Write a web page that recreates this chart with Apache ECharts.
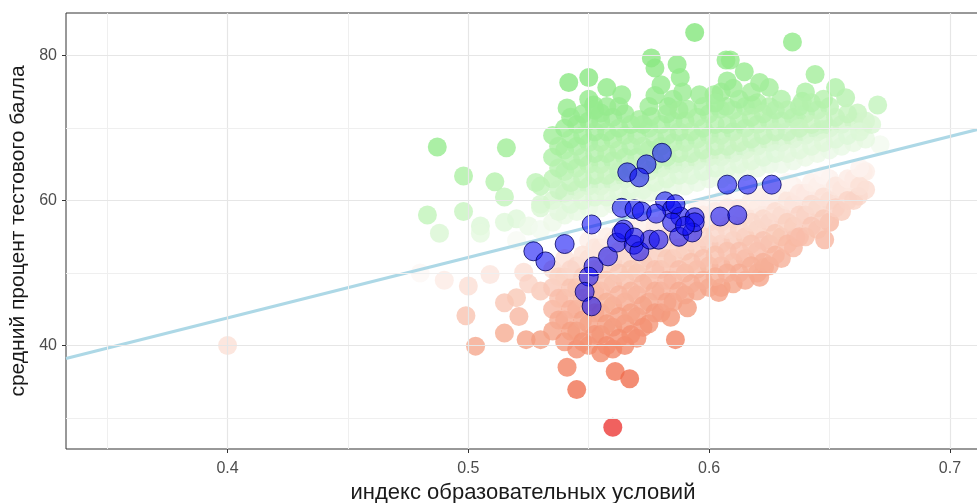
<!DOCTYPE html>
<html>
<head>
<meta charset="utf-8">
<script src="https://cdn.jsdelivr.net/npm/echarts@6/dist/echarts.min.js"></script>
<style>html,body{margin:0;padding:0;background:#fff;}#c{width:977px;height:503px;}</style>
</head>
<body>
<div id="c"></div>
<script>
// ---- data ----
const xTicks = [0.4, 0.5, 0.6, 0.7];
const yTicks = [40, 60, 80];
const xMinorGrid = [0.35, 0.45, 0.55, 0.65];
const yMinorGrid = [30, 50, 70];
const xRange = [0.3329, 0.7125];
const yRange = [25.7, 85.9];
const trendIntercept = 10.4;
const trendSlope = 83.5;
const trendX = [0.3329, 0.7125];

// schools above the trend (green side)
const greenPoints = [
 [0.4871,67.4],[0.5158,67.3],[0.498,63.4],[0.511,62.6],[0.528,62.5],[0.483,58.0],[0.498,58.5],[0.488,55.5],[0.505,56.5],[0.515,60.5],[0.52,57.5],[0.53,59.5],[0.505,55.5],[0.515,57],[0.52,54.5],[0.525,56.5],
 [0.594,83.2],[0.576,79.7],[0.5775,78.3],[0.5867,78.8],[0.588,77.0],[0.5417,76.3],[0.55,77.0],[0.5575,75.6],[0.5637,74.6],[0.541,72.8],[0.552,73.2],[0.555,72.1],[0.571,71.2],[0.576,71.6],[0.583,73.0],[0.589,75.0],[0.596,74.6],[0.602,74.6],[0.607,79.4],[0.6046,72.6],[0.591,72.6],
 [0.6346,81.9],[0.6088,79.4],[0.6146,77.8],[0.621,76.3],[0.625,75.6],[0.644,77.4],[0.6525,75.6],[0.6567,74.2],[0.67,73.2],[0.6617,72.1],[0.6387,73.7],[0.618,73.2],[0.607,73.0],[0.625,73.0],[0.637,70.9],[0.647,69.8],[0.664,70.2],[0.671,67.7],
 [0.53,56],[0.53,59],[0.53,62],
 [0.535,57],[0.535,60],[0.535,63],[0.535,66],[0.535,69],
 [0.54,58],[0.54,61],[0.54,64],[0.54,67],[0.54,70],
 [0.545,58.5],[0.545,61.5],[0.545,64.5],[0.545,67.5],[0.545,70.5],
 [0.55,59],[0.55,62],[0.55,65],[0.55,68],[0.55,71],[0.55,74],
 [0.555,59],[0.555,62],[0.555,65],[0.555,68],[0.555,71],
 [0.56,59.5],[0.56,62.5],[0.56,65.5],[0.56,68.5],[0.56,71.5],
 [0.565,60],[0.565,63],[0.565,66],[0.565,69],[0.565,72],
 [0.57,60],[0.57,63],[0.57,66],[0.57,69],
 [0.575,61],[0.575,64],[0.575,67],[0.575,70],[0.575,73],
 [0.58,61.5],[0.58,64.5],[0.58,67.5],[0.58,70.5],[0.58,76],
 [0.585,62],[0.585,65],[0.585,68],[0.585,71],[0.585,74],
 [0.59,62],[0.59,65],[0.59,68],[0.59,71],
 [0.595,62.5],[0.595,65.5],[0.595,68.5],[0.595,71.5],
 [0.6,63],[0.6,66],[0.6,69],[0.6,72],
 [0.605,63],[0.605,66],[0.605,69],[0.605,75],
 [0.61,63.5],[0.61,66.5],[0.61,69.5],[0.61,72.5],[0.61,75.5],
 [0.615,64],[0.615,67],[0.615,70],[0.615,73],
 [0.62,64.5],[0.62,67.5],[0.62,70.5],[0.62,73.5],
 [0.625,65],[0.625,68],[0.625,71],
 [0.63,65],[0.63,68],[0.63,71],[0.63,74],
 [0.635,65.5],[0.635,68.5],[0.635,71.5],
 [0.64,66],[0.64,69],[0.64,72],[0.64,75],
 [0.645,66.5],[0.645,69.5],[0.645,72.5],
 [0.65,67],[0.65,70],[0.65,73],
 [0.655,67.5],[0.655,70.5],
 [0.66,68],[0.66,71],
 [0.665,68.5],[0.665,71],
 [0.5375,58.5],[0.5375,61.5],[0.5375,64.5],[0.5375,67.5],
 [0.5425,59.5],[0.5425,62.5],[0.5425,65.5],[0.5425,68.5],[0.5425,71.5],
 [0.5475,60],[0.5475,63],[0.5475,66],[0.5475,69],[0.5475,72],
 [0.5525,60.5],[0.5525,63.5],[0.5525,66.5],[0.5525,69.5],[0.5525,72.5],
 [0.5575,60.5],[0.5575,63.5],[0.5575,66.5],[0.5575,69.5],[0.5575,73],
 [0.5625,61],[0.5625,64],[0.5625,67],[0.5625,70],[0.5625,73],
 [0.5675,61.5],[0.5675,64.5],[0.5675,67.5],[0.5675,70.5],
 [0.5725,61.5],[0.5725,64.5],[0.5725,67.5],[0.5725,70.5],
 [0.5775,62.5],[0.5775,65.5],[0.5775,68.5],[0.5775,74.5],
 [0.5825,63],[0.5825,66],[0.5825,69],[0.5825,72],
 [0.5875,63.5],[0.5875,66.5],[0.5875,69.5],[0.5875,72.5],
 [0.5925,63.5],[0.5925,66.5],[0.5925,69.5],
 [0.5975,64],[0.5975,67],[0.5975,70],[0.5975,73],
 [0.6025,64.5],[0.6025,67.5],[0.6025,70.5],[0.6025,73.5],
 [0.6075,64.5],[0.6075,67.5],[0.6075,70.5],[0.6075,76.5],
 [0.6125,65],[0.6125,68],[0.6125,71],[0.6125,74],
 [0.6175,65.5],[0.6175,68.5],[0.6175,71.5],[0.6175,75],
 [0.6225,66],[0.6225,69],[0.6225,72],
 [0.6275,66.5],[0.6275,69.5],[0.6275,72.5],
 [0.6325,66.5],[0.6325,69.5],[0.6325,72.5],
 [0.6375,67],[0.6375,70],[0.6375,73],
 [0.6425,67.5],[0.6425,70.5],[0.6425,73.5],
 [0.6475,68],[0.6475,71],[0.6475,74],
 [0.6525,68.5],[0.6525,71.5],
 [0.6575,69],[0.6575,72],
 [0.6625,69.5],[0.6675,70.5]
];

// schools below the trend (red side)
const redPoints = [
 [0.4,40.0],[0.48,50.0],[0.49,49.0],[0.5,48.2],[0.509,49.8],[0.523,50.1],
 [0.499,44.1],[0.503,39.9],[0.515,41.7],[0.515,45.9],[0.52,46.6],[0.521,44.0],[0.524,40.8],[0.53,40.8],[0.53,47.5],[0.525,48.5],
 [0.541,37.0],[0.545,33.9],[0.561,36.4],[0.567,35.4],[0.56,28.7],
 [0.586,40.8],[0.584,43.9],[0.591,45.2],[0.604,47.3],[0.621,49.4],[0.623,50.8],[0.636,54.9],[0.648,54.6],[0.65,57.0],[0.662,60.6],[0.664,63.9],
 [0.535,42],[0.535,45],[0.535,48],[0.535,50.5],
 [0.54,40.5],[0.54,43.5],[0.54,46.5],[0.54,49.5],[0.54,52],
 [0.545,39.5],[0.545,42],[0.545,45],[0.545,48],[0.545,51],
 [0.55,40],[0.55,43],[0.55,46],[0.55,49],[0.55,52],[0.55,54.5],
 [0.555,39],[0.555,41.5],[0.555,44.5],[0.555,47.5],[0.555,50.5],[0.555,53.5],
 [0.56,39.5],[0.56,42.5],[0.56,45.5],[0.56,48.5],[0.56,51.5],[0.56,54.5],
 [0.565,40],[0.565,43],[0.565,46],[0.565,49],[0.565,52],[0.565,55],
 [0.57,41],[0.57,44],[0.57,47],[0.57,50],[0.57,53],[0.57,56],
 [0.575,43],[0.575,46],[0.575,49],[0.575,52],[0.575,55],
 [0.58,44.5],[0.58,47.5],[0.58,50.5],[0.58,53.5],[0.58,56.5],
 [0.585,46],[0.585,49],[0.585,52],[0.585,55],[0.585,57.5],
 [0.59,47],[0.59,50],[0.59,53],[0.59,56],
 [0.595,47.5],[0.595,50.5],[0.595,53.5],[0.595,56.5],[0.595,59],
 [0.6,48],[0.6,51],[0.6,54],[0.6,57],[0.6,59.5],
 [0.605,48],[0.605,51],[0.605,54],[0.605,57],[0.605,60],
 [0.61,48.5],[0.61,51.5],[0.61,54.5],[0.61,57.5],[0.61,60.5],
 [0.615,49],[0.615,52],[0.615,55],[0.615,58],[0.615,61],
 [0.62,50],[0.62,53],[0.62,56],[0.62,59],[0.62,61.5],
 [0.625,51],[0.625,54],[0.625,57],[0.625,60],[0.625,62],
 [0.63,52],[0.63,55],[0.63,58],[0.63,61],
 [0.635,53.5],[0.635,56.5],[0.635,59.5],[0.635,62],
 [0.64,55],[0.64,58],[0.64,61],
 [0.645,56],[0.645,59],[0.645,62],
 [0.65,57],[0.65,60],[0.65,63],
 [0.655,58.5],[0.655,61.5],
 [0.66,60],[0.66,63],
 [0.665,61.5],[0.665,64],
 [0.5375,43.5],[0.5375,46.5],[0.5375,49.5],
 [0.5425,42],[0.5425,45],[0.5425,48],[0.5425,50.5],
 [0.5475,40.5],[0.5475,43.5],[0.5475,46.5],[0.5475,49.5],[0.5475,52.5],
 [0.5525,41.5],[0.5525,44.5],[0.5525,47.5],[0.5525,50.5],[0.5525,53.5],
 [0.5575,40],[0.5575,43],[0.5575,46],[0.5575,49],[0.5575,52],[0.5575,55],
 [0.5625,41],[0.5625,44],[0.5625,47],[0.5625,50],[0.5625,53],[0.5625,55.5],
 [0.5675,41.5],[0.5675,44.5],[0.5675,47.5],[0.5675,50.5],[0.5675,53.5],[0.5675,56],
 [0.5725,42.5],[0.5725,45.5],[0.5725,48.5],[0.5725,51.5],[0.5725,54.5],[0.5725,57],
 [0.5775,44.5],[0.5775,47.5],[0.5775,50.5],[0.5775,53.5],[0.5775,56.5],
 [0.5825,46],[0.5825,49],[0.5825,52],[0.5825,55],[0.5825,57.5],
 [0.5875,47.5],[0.5875,50.5],[0.5875,53.5],[0.5875,56.5],
 [0.5925,48.5],[0.5925,51.5],[0.5925,54.5],[0.5925,57.5],
 [0.5975,49],[0.5975,52],[0.5975,55],[0.5975,58],
 [0.6025,49.5],[0.6025,52.5],[0.6025,55.5],[0.6025,58.5],
 [0.6075,50],[0.6075,53],[0.6075,56],[0.6075,59],
 [0.6125,50],[0.6125,53],[0.6125,56],[0.6125,59],[0.6125,61.5],
 [0.6175,51],[0.6175,54],[0.6175,57],[0.6175,60],
 [0.6225,51.5],[0.6225,54.5],[0.6225,57.5],[0.6225,60.5],
 [0.6275,52.5],[0.6275,55.5],[0.6275,58.5],[0.6275,61.5],
 [0.6325,54],[0.6325,57],[0.6325,60],[0.6325,62.5],
 [0.6375,55],[0.6375,58],[0.6375,61],
 [0.6425,56.5],[0.6425,59.5],[0.6425,62.5],
 [0.6475,57.5],[0.6475,60.5],[0.6475,63.5],
 [0.6525,59],[0.6525,62],
 [0.6575,60],[0.6575,63],
 [0.6625,62],[0.6625,64.5]
];

// highlighted group (blue)
const bluePoints = [
 [0.5804,66.6],[0.574,65.0],[0.566,63.9],[0.571,63.2],[0.5637,59.0],[0.569,58.8],[0.572,58.5],[0.5817,59.9],[0.5846,58.8],[0.588,57.8],[0.594,57.7],
 [0.6075,62.2],[0.616,62.2],[0.626,62.2],[0.6046,57.8],[0.6117,58.0],[0.5512,56.7],[0.527,53.0],[0.532,51.6],[0.54,54.0],
 [0.552,50.9],[0.55,49.5],[0.5483,47.4],[0.5512,45.4],[0.558,52.3],[0.5617,54.2],[0.5646,56.0],[0.5687,53.9],[0.571,53.0],[0.5754,54.6],
 [0.579,54.6],[0.5846,57.0],[0.5875,55.0],[0.593,55.6],[0.594,57.0],[0.5637,55.6],[0.569,54.9],[0.59,56.5],[0.578,58.2],[0.586,59.5]
];

const xTitle = 'индекс образовательных условий';
const yTitle = 'средний процент тестового балла';

// ---- build ----
const allPts = greenPoints.concat(redPoints).map(p => [p[0], p[1], p[1] - (trendIntercept + trendSlope * p[0])]);
const trendData = trendX.map(x => [x, trendIntercept + trendSlope * x]);
const FONT = 'Liberation Sans, Arial, sans-serif';

const gridLines = [];
xTicks.forEach(v => gridLines.push({xAxis: v, lineStyle: {color: '#e6e6e6', width: 1.2, type: 'solid'}}));
xMinorGrid.forEach(v => gridLines.push({xAxis: v, lineStyle: {color: '#efefef', width: 1, type: 'solid'}}));
yTicks.forEach(v => gridLines.push({yAxis: v, lineStyle: {color: '#e6e6e6', width: 1.2, type: 'solid'}}));
yMinorGrid.forEach(v => gridLines.push({yAxis: v, lineStyle: {color: '#efefef', width: 1, type: 'solid'}}));

const chart = echarts.init(document.getElementById('c'), null, {renderer: 'canvas'});
chart.setOption({
  backgroundColor: '#fff',
  animation: false,
  grid: {left: 66, right: -3, top: 13, bottom: 54, outerBoundsMode: 'none', containLabel: false,
         show: true, borderColor: '#333', borderWidth: 1, backgroundColor: 'transparent'},
  xAxis: {
    type: 'value', min: xRange[0], max: xRange[1],
    name: xTitle, nameLocation: 'middle', nameGap: 32,
    nameTextStyle: {fontFamily: FONT, fontSize: 22, color: '#1a1a1a'},
    axisLine: {show: false},
    splitLine: {show: false},
    axisTick: {show: true, length: 4, lineStyle: {color: '#333'}, customValues: xTicks},
    axisLabel: {customValues: xTicks, fontFamily: FONT, fontSize: 16, color: '#4d4d4d', margin: 12, formatter: v => String(v)}
  },
  yAxis: {
    type: 'value', min: yRange[0], max: yRange[1],
    name: yTitle, nameLocation: 'middle', nameGap: 37,
    nameTextStyle: {fontFamily: FONT, fontSize: 21, color: '#1a1a1a'},
    axisLine: {show: false},
    splitLine: {show: false},
    axisTick: {show: true, length: 4, lineStyle: {color: '#333'}, customValues: yTicks},
    axisLabel: {customValues: yTicks, fontFamily: FONT, fontSize: 16, color: '#4d4d4d', margin: 9}
  },
  visualMap: {
    type: 'continuous', show: false, dimension: 2, seriesIndex: 1, min: -29, max: 29,
    inRange: {color: ['#ec3030', '#f0704f', '#f4987a', '#f9c6b4', '#fdfbfa', '#bff3b7', '#9aec92', '#84e67c', '#6ee066']}
  },
  series: [
    {type: 'scatter', data: [], silent: true, z: 1,
     markLine: {silent: true, symbol: 'none', label: {show: false}, animation: false, data: gridLines}},
    {type: 'scatter', data: allPts, symbolSize: 19, z: 2, itemStyle: {opacity: 0.78}},
    {type: 'line', data: trendData, symbol: 'none', z: 3, lineStyle: {color: '#add8e6', width: 3.2}},
    {type: 'scatter', data: bluePoints, symbolSize: 19, z: 4,
     itemStyle: {color: 'rgba(10,10,245,0.72)', borderColor: '#000060', borderWidth: 1}}
  ]
});
</script>
</body>
</html>
